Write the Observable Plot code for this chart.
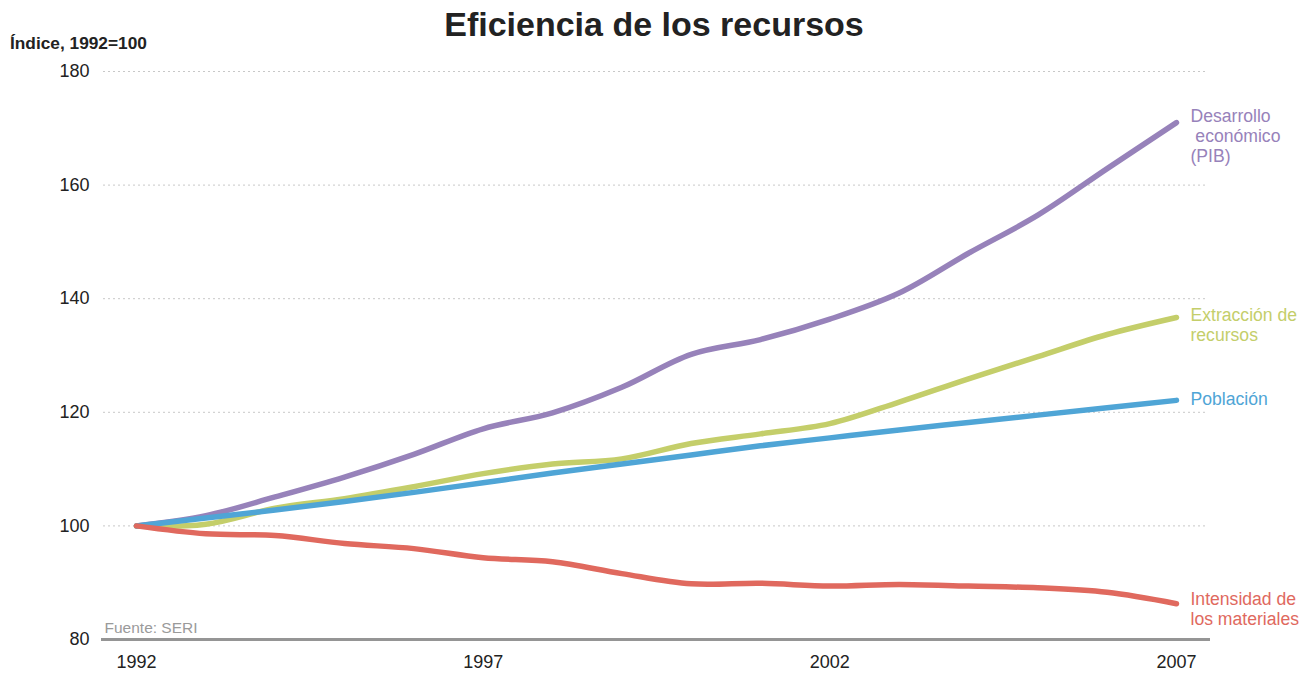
<!DOCTYPE html>
<html>
<head>
<meta charset="utf-8">
<script src="https://cdn.jsdelivr.net/npm/d3@7"></script>
<script src="https://cdn.jsdelivr.net/npm/@observablehq/plot@0.6"></script>
<style>
  html, body { margin: 0; padding: 0; background: #fff; }
  body { width: 1308px; height: 675px; overflow: hidden; font-family: "Liberation Sans", Arial, sans-serif; }
  #header { position: relative; height: 55px; width: 1308px; }
  #title { position: absolute; left: 0; width: 1308px; top: 5px; text-align: center; font-size: 34px; font-weight: bold; color: #222; }
  #ylabel { position: absolute; left: 10px; top: 33px; font-size: 17.3px; font-weight: bold; color: #222; }
</style>
</head>
<body>
<div id="header">
  <div id="title">Eficiencia de los recursos</div>
  <div id="ylabel">Índice, 1992=100</div>
</div>
<div id="chart"></div>
<script>
const years = [1992, 1993, 1994, 1995, 1996, 1997, 1998, 1999, 2000, 2001, 2002, 2003, 2004, 2005, 2006, 2007];
const pib =        [100, 101.8, 105.1, 108.6, 112.6, 117.1, 119.9, 124.4, 130.2, 132.8, 136.4, 141.0, 148.0, 154.7, 162.9, 171.0];
const extraccion = [100, 100.3, 103.1, 104.8, 106.9, 109.2, 110.9, 111.8, 114.5, 116.2, 118.0, 121.8, 125.9, 129.8, 133.7, 136.7];
const poblacion =  [100, 101.4, 102.8, 104.3, 105.9, 107.6, 109.3, 110.9, 112.5, 114.1, 115.5, 116.9, 118.2, 119.5, 120.8, 122.1];
const intensidad = [100, 98.6, 98.3, 96.9, 96.0, 94.4, 93.7, 91.6, 89.8, 89.9, 89.4, 89.7, 89.4, 89.1, 88.3, 86.3];

const seriesNames = ["Desarrollo\n económico\n(PIB)", "Extracción de\nrecursos", "Población", "Intensidad de\nlos materiales"];
const seriesValues = [pib, extraccion, poblacion, intensidad];
const seriesColors = ["#9782ba", "#c4ce6a", "#4fa5d6", "#e0695e"];
const yTicks = [80, 100, 120, 140, 160, 180];
const xTicks = [1992, 1997, 2002, 2007];
const source = "Fuente: SERI";

const rows = seriesValues.flatMap((vals, i) => years.map((yr, j) => ({series: seriesNames[i], year: yr, value: vals[j], idx: i})));
const lastRows = seriesValues.map((vals, i) => ({series: seriesNames[i], year: years[years.length - 1], value: vals[vals.length - 1], idx: i}));
const labelDy = [13, 7, -2, 5];

const plot = Plot.plot({
  width: 1308,
  height: 620,
  marginLeft: 103,
  marginRight: 100,
  marginTop: 16,
  marginBottom: 36,
  style: {fontFamily: '"Liberation Sans", Arial, sans-serif', fontSize: "18px", color: "#222", background: "#fff", overflow: "visible"},
  x: {domain: [1991.524, 2007.462], ticks: xTicks, tickFormat: d => String(d), tickSize: 0, tickPadding: 16, label: null},
  y: {domain: [80, 180], ticks: yTicks, tickSize: 0, tickPadding: 14, label: null},
  color: {domain: seriesNames, range: seriesColors},
  marks: [
    Plot.ruleY(yTicks.filter(t => t > 80), {stroke: "#c8c8c8", strokeWidth: 1, strokeDasharray: "2,3"}),
    Plot.ruleY([80], {stroke: "#959595", strokeWidth: 3, insetLeft: -2, insetRight: -2}),
    Plot.text([source], {frameAnchor: "bottom-left", dx: 1, dy: -7, lineAnchor: "bottom", text: d => d, fill: "#9a9a9a", fontSize: 15.5}),
    Plot.line(rows, {x: "year", y: "value", z: "series", stroke: "series", strokeWidth: 5.5, curve: "catmull-rom", strokeLinecap: "round"}),
    ...lastRows.map((r, i) => Plot.text([r], {x: "year", y: "value", text: "series", fill: seriesColors[i], textAnchor: "start", lineAnchor: "middle", dx: 14, dy: labelDy[i], fontSize: 17.6, lineHeight: 1.14}))
  ]
});
document.getElementById("chart").appendChild(plot);
</script>
</body>
</html>
